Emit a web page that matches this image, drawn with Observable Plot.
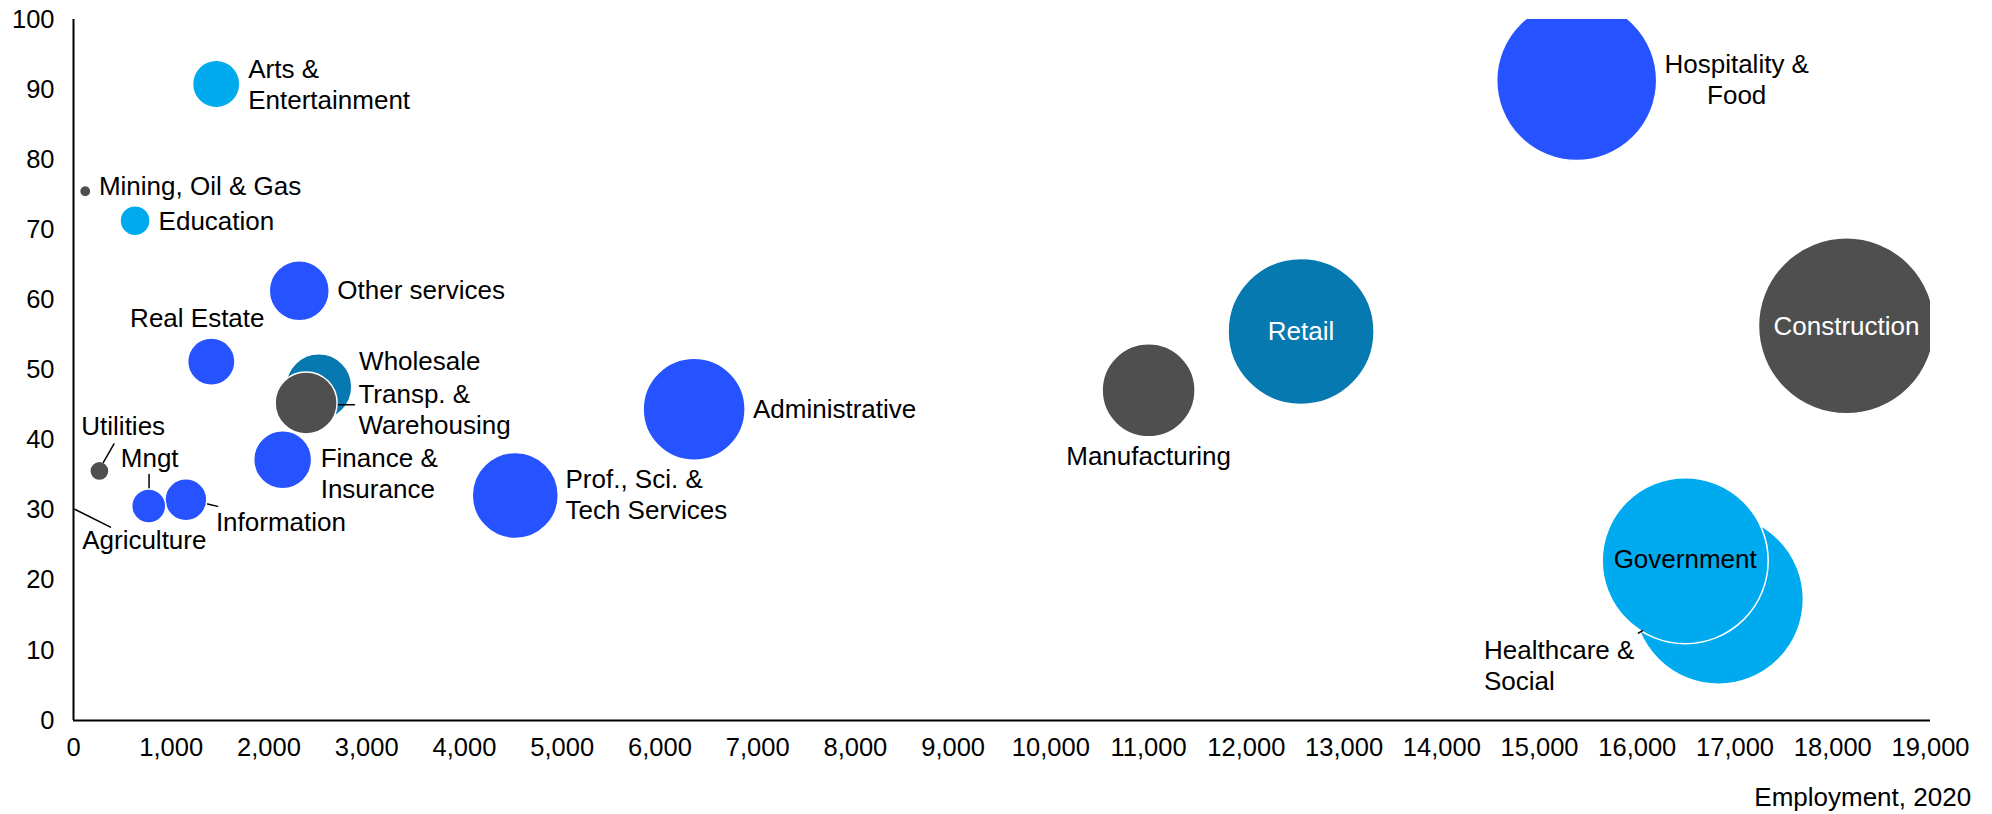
<!DOCTYPE html>
<html><head><meta charset="utf-8">
<script src="https://cdn.jsdelivr.net/npm/d3@7"></script>
<script src="https://cdn.jsdelivr.net/npm/@observablehq/plot@0.6"></script>
<style>body{margin:0;background:#fff;} #chart svg{display:block;}</style>
</head><body><div id="chart"></div>
<script>
// ---- data ----
const sectors = ["Agriculture","Mining, Oil & Gas","Utilities","Construction","Manufacturing","Wholesale","Retail","Transp. & Warehousing","Information","Finance & Insurance","Real Estate","Prof., Sci. & Tech Services","Mngt","Administrative","Education","Healthcare & Social","Arts & Entertainment","Hospitality & Food","Other services","Government"];
const labels = ["Agriculture","Mining, Oil & Gas","Utilities","Construction","Manufacturing","Wholesale","Retail","Transp. &\nWarehousing","Information","Finance &\nInsurance","Real Estate","Prof., Sci. &\nTech Services","Mngt","Administrative","Education","Healthcare &\nSocial","Arts &\nEntertainment","Hospitality &\nFood","Other services","Government"];
const employment = [10, 120, 265, 18140, 11000, 2510, 12560, 2380, 1150, 2140, 1410, 4520, 770, 6350, 630, 16830, 1460, 15380, 2310, 16490];
const yValue = [30.2, 75.5, 35.6, 56.3, 47.1, 47.6, 55.5, 45.3, 31.5, 37.2, 51.2, 32.1, 30.6, 44.4, 71.3, 17.3, 90.8, 91.3, 61.3, 22.8];
const bubbleSize = [0.2, 3.2, 9.2, 774, 216, 109, 533, 96, 44, 84, 56, 185, 29, 260, 22.5, 722, 56, 640, 90, 689];
const sectorGroup = ["Goods","Goods","Goods","Goods","Goods","Trade","Trade","Goods","Services","Services","Services","Services","Services","Services","Public","Public","Public","Services","Services","Public"];
const xTicks = [0,1000,2000,3000,4000,5000,6000,7000,8000,9000,10000,11000,12000,13000,14000,15000,16000,17000,18000,19000];
const yTicks = [0,10,20,30,40,50,60,70,80,90,100];
const xTitle = "Employment, 2020";

// ---- styles ----
const groupDomain = ["Services","Public","Trade","Goods"];
const groupColors = ["#2653ff","#00aaef","#0779b1","#4f4f4f"];
const textShift = -2.5;

const labelStyle = {
  "Agriculture": {dx: 7.7, dy: 32.7, anchor: "start"},
  "Mining, Oil & Gas": {dx: 13.7, dy: -4, anchor: "start"},
  "Utilities": {dx: -18.1, dy: -43, anchor: "start"},
  "Construction": {dx: 0, dy: 1.7, anchor: "middle", fill: "#fff"},
  "Manufacturing": {dx: 0, dy: 67.2, anchor: "middle"},
  "Wholesale": {dx: 40.3, dy: -24.3, anchor: "start"},
  "Retail": {dx: 0, dy: 0.7, anchor: "middle", fill: "#fff"},
  "Transp. & Warehousing": {dx: 52.3, dy: 8.3, anchor: "start"},
  "Information": {dx: 30, dy: 23.7, anchor: "start"},
  "Finance & Insurance": {dx: 38, dy: 15.3, anchor: "start"},
  "Real Estate": {dx: -14, dy: -41.7, anchor: "middle"},
  "Prof., Sci. & Tech Services": {dx: 50.2, dy: 0.9, anchor: "start"},
  "Mngt": {dx: -28, dy: -46.2, anchor: "start"},
  "Administrative": {dx: 58.8, dy: 1, anchor: "start"},
  "Education": {dx: 23.5, dy: 1.7, anchor: "start"},
  "Healthcare & Social": {dx: -234.4, dy: 68, anchor: "start"},
  "Arts & Entertainment": {dx: 32, dy: 1.8, anchor: "start"},
  "Hospitality & Food": {dx: 160, dy: 0.3, anchor: "middle"},
  "Other services": {dx: 38, dy: 1, anchor: "start"},
  "Government": {dx: 0, dy: 0, anchor: "middle"}
};

const leaderStyle = {
  "Utilities": {dx: 4, dy: -8.6, length: 21.2, rotate: 30},
  "Mngt": {dx: 0.3, dy: -18.2, length: 13.3, rotate: 0},
  "Information": {dx: 21.7, dy: 4.3, length: 10.3, rotate: 103.5},
  "Transp. & Warehousing": {dx: 32.3, dy: 1.8, length: 16, rotate: 90},
  "Agriculture": {dx: 0.7, dy: 0.7, length: 39.5, rotate: 116.6},
  "Healthcare & Social": {dx: -80, dy: 34, length: 5, rotate: 58}
};

const data = sectors.map((s, i) => ({sector: s, label: labels[i], x: employment[i], y: yValue[i], size: bubbleSize[i], group: sectorGroup[i]}));

const leaderShape = {draw(context, length) { context.moveTo(0, 0); context.lineTo(0, -length); }};

const textMarks = Object.entries(labelStyle).map(([name, st]) =>
  Plot.text(data.filter(d => d.sector === name), {
    x: "x", y: "y", text: "label", dx: st.dx, dy: st.dy + textShift,
    textAnchor: st.anchor, lineAnchor: "middle", lineHeight: 1.2,
    fontSize: 26, fill: st.fill || "#000"
  })
);

const leaderMarks = Object.entries(leaderStyle).map(([name, st]) =>
  Plot.vector(data.filter(d => d.sector === name), {
    x: "x", y: "y", dx: st.dx, dy: st.dy, length: st.length, rotate: st.rotate,
    anchor: "start", shape: leaderShape, stroke: "#000", strokeWidth: 1.5
  })
);

const chart = Plot.plot({
  width: 1992, height: 814,
  marginTop: 19, marginBottom: 94, marginLeft: 73, marginRight: 62,
  x: {domain: [0, 19000]},
  y: {domain: [0, 100]},
  r: {domain: [0, 1000], range: [0, 100]},
  color: {domain: groupDomain, range: groupColors},
  style: {fontFamily: "'Liberation Sans', Arial, sans-serif", fontSize: "25.5px", background: "#fff", color: "#000"},
  marks: [
    Plot.dot(data, {x: "x", y: "y", r: "size", fill: "group", fillOpacity: 1, stroke: "#fff", strokeWidth: 1.5, clip: true}),
    ...leaderMarks,
    Plot.ruleX([0], {stroke: "#000", strokeWidth: 2}),
    Plot.ruleY([0], {stroke: "#000", strokeWidth: 2}),
    Plot.axisX({ticks: xTicks, tickSize: 0, tickPadding: 17, label: null, fontSize: 25.5}),
    Plot.axisY({ticks: yTicks, tickSize: 0, tickPadding: 19, label: null, fontSize: 25.5}),
    ...textMarks,
    Plot.text([xTitle], {text: d => d, frameAnchor: "bottom-right", dx: 40.6, dy: 80 + textShift, textAnchor: "end", lineAnchor: "middle", fontSize: 26})
  ]
});
document.getElementById("chart").appendChild(chart);
</script>
</body></html>
